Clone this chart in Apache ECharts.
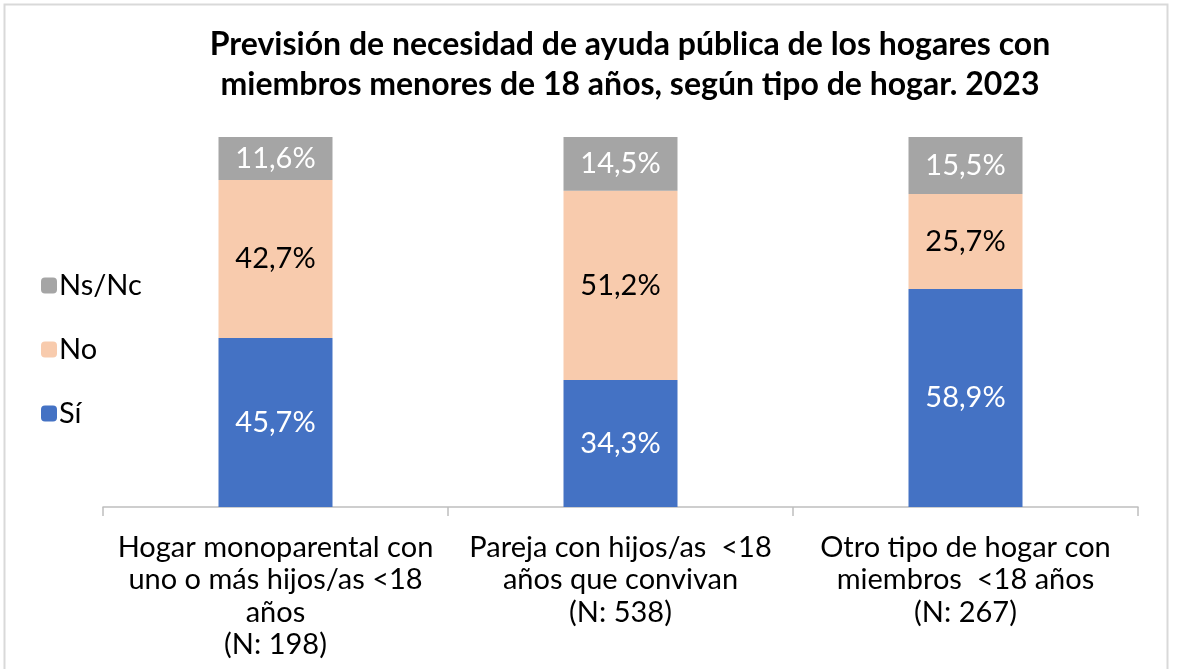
<!DOCTYPE html>
<html>
<head>
<meta charset="utf-8">
<script src="https://cdn.jsdelivr.net/npm/echarts@6/dist/echarts.min.js"></script>
<style>
html, body { margin: 0; padding: 0; background: #fff; }
#chart { width: 1178px; height: 669px; }
</style>
</head>
<body>
<div id="chart"></div>
<script>
// datos
var categorias = [
  "Hogar monoparental con\nuno o más hijos/as <18\naños\n(N: 198)",
  "Pareja con hijos/as  <18\naños que convivan\n(N: 538)",
  "Otro tipo de hogar con\nmiembros  <18 años\n(N: 267)"
];
var si = [45.7, 34.3, 58.9];
var no = [42.7, 51.2, 25.7];
var nsnc = [11.6, 14.5, 15.5];

var myChart = echarts.init(document.getElementById("chart"));

function fmt(p) {
  return p.value.toFixed(1).replace(".", ",") + "%";
}

var fuente = "Lato, 'Open Sans', sans-serif";

var option = {
  textStyle: { fontFamily: fuente },
  title: {
    text: "Previsión de necesidad de ayuda pública de los hogares con\nmiembros menores de 18 años, según tipo de hogar. 2023",
    left: 625,
    textAlign: "center",
    top: 20,
    textStyle: { fontSize: 32, fontWeight: "bold", color: "#000", lineHeight: 40, fontFamily: fuente }
  },
  graphic: [{
    type: "rect",
    shape: { x: 4.5, y: 4.5, width: 1163, height: 700 },
    style: { fill: "none", stroke: "#d9d9d9", lineWidth: 2 },
    silent: true
  }],
  legend: {
    orient: "vertical",
    left: 36,
    top: 266,
    itemWidth: 16,
    itemHeight: 16,
    itemGap: 35,
    data: ["Ns/Nc", "No", "Sí"],
    textStyle: { fontSize: 29, color: "#000", fontFamily: fuente, padding: [0, 0, 0, -3] }
  },
  grid: { left: 103, right: 40, top: 137, bottom: 162 },
  xAxis: {
    type: "category",
    data: categorias,
    axisLine: { lineStyle: { color: "#bfbfbf", width: 1.5 } },
    axisTick: { show: true, length: 9, lineStyle: { color: "#bfbfbf", width: 1.5 } },
    axisLabel: { fontSize: 29, color: "#000", lineHeight: 32.5, margin: 24, interval: 0, fontFamily: fuente }
  },
  yAxis: {
    type: "value",
    min: 0,
    max: 100,
    show: false
  },
  series: [
    {
      name: "Sí", type: "bar", stack: "total", data: si, barWidth: 114,
      itemStyle: { color: "#4472C4" },
      label: { show: true, formatter: fmt, color: "#fff", fontSize: 29, fontFamily: fuente }
    },
    {
      name: "No", type: "bar", stack: "total", data: no, barWidth: 114,
      itemStyle: { color: "#F8CBAD" },
      label: { show: true, formatter: fmt, color: "#000", fontSize: 29, fontFamily: fuente }
    },
    {
      name: "Ns/Nc", type: "bar", stack: "total", data: nsnc, barWidth: 114,
      itemStyle: { color: "#A5A5A5" },
      label: { show: true, formatter: fmt, color: "#fff", fontSize: 29, fontFamily: fuente }
    }
  ]
};
myChart.setOption(option);
</script>
</body>
</html>
